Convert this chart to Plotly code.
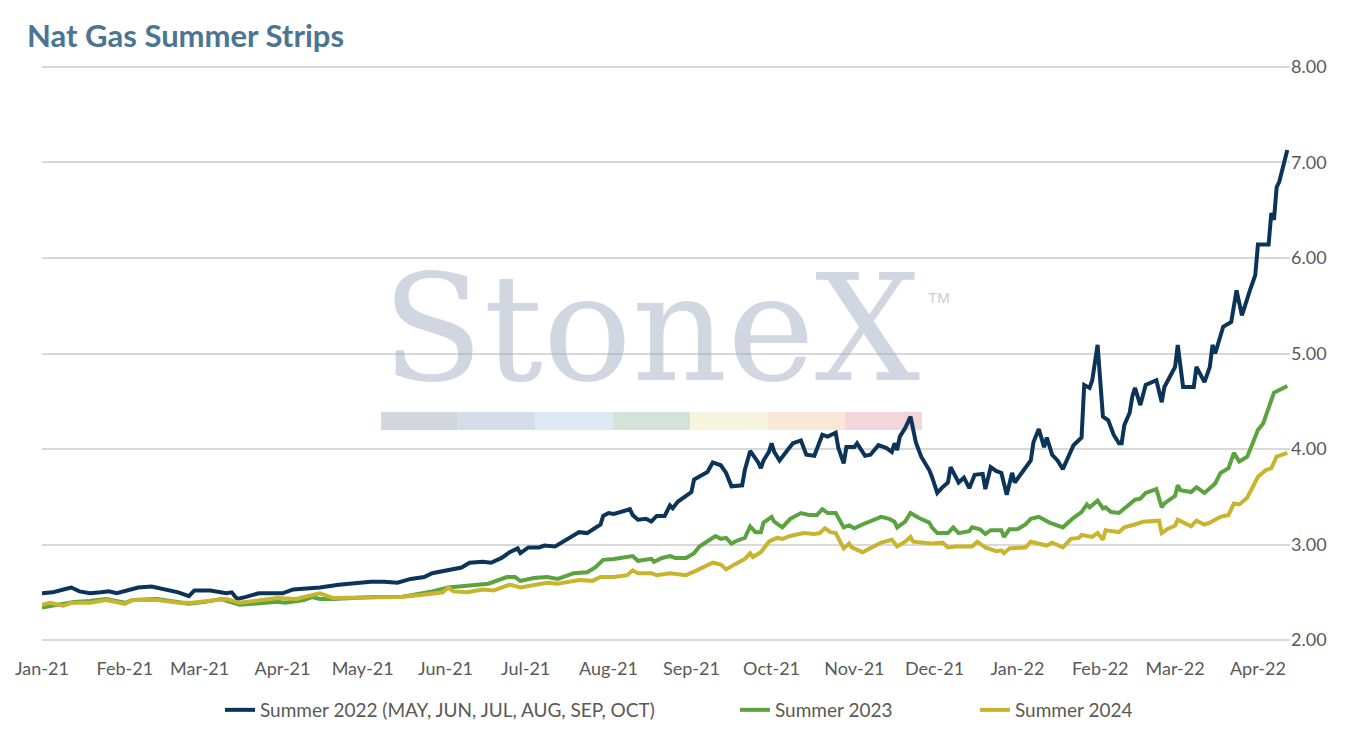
import plotly.graph_objects as go

# ---------------- data ----------------
s22_dates = ["2021-01-04","2021-01-08","2021-01-12","2021-01-15","2021-01-18","2021-01-22","2021-01-26","2021-01-29",
 "2021-02-01","2021-02-05","2021-02-09","2021-02-14","2021-02-17","2021-02-20","2021-02-24","2021-02-28",
 "2021-03-02","2021-03-08","2021-03-11","2021-03-14","2021-03-16","2021-03-18","2021-03-21","2021-03-26","2021-03-31",
 "2021-04-04","2021-04-08","2021-04-12","2021-04-18","2021-04-25","2021-05-01","2021-05-07","2021-05-12","2021-05-17",
 "2021-05-22","2021-05-27","2021-05-30","2021-06-03","2021-06-06","2021-06-10","2021-06-13","2021-06-18","2021-06-21",
 "2021-06-25","2021-06-28","2021-07-01","2021-07-02","2021-07-05","2021-07-09","2021-07-11","2021-07-15","2021-07-19",
 "2021-07-23","2021-07-24","2021-07-27","2021-07-30","2021-08-01","2021-08-02","2021-08-04","2021-08-06","2021-08-09",
 "2021-08-12","2021-08-13","2021-08-15","2021-08-18","2021-08-20","2021-08-22","2021-08-25","2021-08-27","2021-08-28",
 "2021-08-30","2021-09-01","2021-09-04","2021-09-05","2021-09-10","2021-09-12","2021-09-15","2021-09-17","2021-09-19",
 "2021-09-23","2021-09-24","2021-09-26","2021-09-29","2021-09-30","2021-10-01","2021-10-03","2021-10-04","2021-10-05",
 "2021-10-07","2021-10-10","2021-10-12","2021-10-15","2021-10-17","2021-10-20","2021-10-21","2021-10-23","2021-10-25",
 "2021-10-28","2021-10-29","2021-10-31","2021-11-01","2021-11-04","2021-11-05","2021-11-08","2021-11-10","2021-11-13",
 "2021-11-16","2021-11-18","2021-11-19","2021-11-20","2021-11-21","2021-11-23","2021-11-25","2021-11-26","2021-11-27",
 "2021-11-29","2021-12-02","2021-12-03","2021-12-05","2021-12-07","2021-12-09","2021-12-10","2021-12-13","2021-12-15",
 "2021-12-17","2021-12-19","2021-12-22","2021-12-23","2021-12-25","2021-12-27","2021-12-29","2021-12-31","2022-01-02",
 "2022-01-03","2022-01-06","2022-01-09","2022-01-10","2022-01-12","2022-01-14","2022-01-15","2022-01-17","2022-01-19",
 "2022-01-21","2022-01-23","2022-01-25","2022-01-28","2022-01-29","2022-01-31","2022-02-01","2022-02-03","2022-02-05",
 "2022-02-07","2022-02-09","2022-02-11","2022-02-12","2022-02-13","2022-02-15","2022-02-16","2022-02-17","2022-02-19",
 "2022-02-21","2022-02-25","2022-02-27","2022-02-28","2022-03-04","2022-03-05","2022-03-07","2022-03-11","2022-03-12",
 "2022-03-15","2022-03-17","2022-03-18","2022-03-19","2022-03-22","2022-03-25","2022-03-27","2022-03-29","2022-04-01",
 "2022-04-03","2022-04-04","2022-04-08","2022-04-09","2022-04-10","2022-04-11","2022-04-12","2022-04-15"]
s22_vals = [2.49,2.50,2.53,2.55,2.51,2.49,2.50,2.51,
 2.49,2.52,2.55,2.56,2.54,2.53,2.50,2.46,
 2.52,2.52,2.51,2.49,2.50,2.43,2.45,2.49,2.49,
 2.49,2.53,2.54,2.55,2.58,2.60,2.61,2.61,2.60,
 2.64,2.66,2.70,2.72,2.74,2.76,2.81,2.82,2.81,
 2.86,2.92,2.96,2.91,2.97,2.97,2.99,2.98,3.05,
 3.12,3.13,3.12,3.18,3.21,3.30,3.33,3.32,3.34,
 3.37,3.31,3.26,3.27,3.24,3.30,3.30,3.41,3.38,
 3.45,3.49,3.55,3.68,3.76,3.86,3.83,3.75,3.61,
 3.62,3.78,3.98,3.86,3.80,3.88,3.97,4.06,3.97,
 3.88,3.99,4.06,4.09,3.94,3.93,4.01,4.15,4.13,
 4.17,4.01,3.85,4.02,4.02,4.06,3.93,3.94,4.04,
 4.01,3.97,4.06,3.99,4.13,4.22,4.34,4.20,4.07,
 3.92,3.78,3.71,3.54,3.60,3.65,3.81,3.65,3.70,
 3.59,3.73,3.74,3.58,3.81,3.77,3.75,3.52,3.75,
 3.65,3.76,3.88,4.07,4.21,4.02,4.12,3.94,3.88,
 3.79,3.92,4.04,4.12,4.67,4.64,4.72,5.09,4.34,
 4.30,4.15,4.06,4.06,4.25,4.38,4.55,4.64,4.46,
 4.67,4.72,4.49,4.65,4.86,5.09,4.65,4.65,4.86,
 4.70,4.86,5.09,5.00,5.28,5.33,5.66,5.40,5.66,
 5.82,6.14,6.14,6.47,6.40,6.74,6.80,7.13]

s23_dates = ["2021-01-04","2021-01-08","2021-01-13","2021-01-16","2021-01-22","2021-01-28","2021-02-04","2021-02-07",
 "2021-02-16","2021-02-24","2021-02-28","2021-03-06","2021-03-12","2021-03-19","2021-03-26","2021-04-02","2021-04-05",
 "2021-04-12","2021-04-15","2021-04-18","2021-04-23","2021-05-08","2021-05-18","2021-05-25","2021-05-30","2021-06-05",
 "2021-06-12","2021-06-20","2021-06-27","2021-06-30","2021-07-02","2021-07-07","2021-07-12","2021-07-16","2021-07-22",
 "2021-07-27","2021-07-30","2021-08-02","2021-08-06","2021-08-13","2021-08-15","2021-08-20","2021-08-21","2021-08-24",
 "2021-08-27","2021-08-29","2021-09-02","2021-09-05","2021-09-07","2021-09-10","2021-09-13","2021-09-15","2021-09-17",
 "2021-09-19","2021-09-21","2021-09-24","2021-09-26","2021-09-28","2021-09-30","2021-10-01","2021-10-04","2021-10-05",
 "2021-10-08","2021-10-11","2021-10-15","2021-10-18","2021-10-21","2021-10-23","2021-10-25","2021-10-28","2021-10-30",
 "2021-10-31","2021-11-02","2021-11-04","2021-11-07","2021-11-10","2021-11-14","2021-11-17","2021-11-19","2021-11-20",
 "2021-11-23","2021-11-25","2021-11-27","2021-11-28","2021-12-02","2021-12-03","2021-12-05","2021-12-09","2021-12-11",
 "2021-12-13","2021-12-17","2021-12-18","2021-12-21","2021-12-23","2021-12-25","2021-12-29","2021-12-30","2022-01-01",
 "2022-01-04","2022-01-07","2022-01-09","2022-01-12","2022-01-16","2022-01-21","2022-01-25","2022-01-28","2022-01-30",
 "2022-01-31","2022-02-03","2022-02-05","2022-02-06","2022-02-08","2022-02-11","2022-02-13","2022-02-17","2022-02-19",
 "2022-02-21","2022-02-25","2022-02-27","2022-02-28","2022-03-04","2022-03-05","2022-03-06","2022-03-10","2022-03-12",
 "2022-03-15","2022-03-17","2022-03-19","2022-03-21","2022-03-24","2022-03-26","2022-03-28","2022-03-31","2022-04-01",
 "2022-04-04","2022-04-06","2022-04-08","2022-04-10","2022-04-15"]
s23_vals = [2.34,2.36,2.39,2.40,2.41,2.43,2.39,2.42,
 2.43,2.40,2.38,2.40,2.43,2.37,2.39,2.40,2.39,
 2.42,2.45,2.43,2.43,2.45,2.45,2.48,2.51,2.55,
 2.57,2.59,2.66,2.66,2.62,2.65,2.66,2.64,2.70,
 2.71,2.76,2.84,2.85,2.88,2.83,2.85,2.82,2.86,
 2.88,2.86,2.86,2.91,2.98,3.03,3.09,3.06,3.07,
 3.01,3.04,3.07,3.19,3.13,3.13,3.23,3.29,3.24,
 3.18,3.27,3.33,3.31,3.31,3.37,3.33,3.33,3.24,
 3.18,3.20,3.17,3.21,3.24,3.29,3.27,3.24,3.18,
 3.24,3.33,3.29,3.28,3.23,3.18,3.12,3.12,3.18,
 3.12,3.14,3.18,3.16,3.11,3.15,3.15,3.08,3.16,
 3.16,3.21,3.27,3.29,3.23,3.18,3.28,3.34,3.42,
 3.39,3.46,3.38,3.39,3.34,3.33,3.38,3.47,3.48,
 3.54,3.58,3.39,3.43,3.51,3.62,3.57,3.55,3.60,
 3.54,3.59,3.64,3.75,3.80,3.96,3.87,3.92,3.99,
 4.20,4.27,4.43,4.59,4.66]

s24_dates = ["2021-01-04","2021-01-07","2021-01-12","2021-01-15","2021-01-22","2021-01-28","2021-02-04","2021-02-07",
 "2021-02-16","2021-02-24","2021-03-01","2021-03-08","2021-03-14","2021-03-19","2021-03-26","2021-04-02","2021-04-09",
 "2021-04-15","2021-04-18","2021-04-23","2021-04-28","2021-05-08","2021-05-18","2021-05-25","2021-05-30","2021-06-03",
 "2021-06-05","2021-06-07","2021-06-12","2021-06-18","2021-06-22","2021-06-28","2021-07-02","2021-07-09","2021-07-12",
 "2021-07-16","2021-07-24","2021-07-29","2021-08-01","2021-08-06","2021-08-11","2021-08-13","2021-08-15","2021-08-20",
 "2021-08-22","2021-08-27","2021-09-02","2021-09-06","2021-09-08","2021-09-12","2021-09-15","2021-09-17","2021-09-20",
 "2021-09-24","2021-09-26","2021-09-27","2021-09-30","2021-10-03","2021-10-06","2021-10-08","2021-10-11","2021-10-16",
 "2021-10-20","2021-10-22","2021-10-24","2021-10-26","2021-10-28","2021-10-30","2021-10-31","2021-11-02","2021-11-03",
 "2021-11-07","2021-11-10","2021-11-14","2021-11-18","2021-11-20","2021-11-23","2021-11-25","2021-11-26","2021-11-29",
 "2021-12-03","2021-12-07","2021-12-09","2021-12-12","2021-12-18","2021-12-20","2021-12-23","2021-12-27","2021-12-29",
 "2021-12-30","2022-01-01","2022-01-07","2022-01-09","2022-01-15","2022-01-17","2022-01-21","2022-01-24","2022-01-27",
 "2022-01-28","2022-02-01","2022-02-03","2022-02-05","2022-02-06","2022-02-11","2022-02-13","2022-02-17","2022-02-20",
 "2022-02-26","2022-02-27","2022-03-01","2022-03-04","2022-03-05","2022-03-07","2022-03-10","2022-03-12","2022-03-15",
 "2022-03-17","2022-03-19","2022-03-21","2022-03-24","2022-03-26","2022-03-28","2022-03-31","2022-04-02","2022-04-04",
 "2022-04-07","2022-04-09","2022-04-11","2022-04-15"]
s24_vals = [2.37,2.39,2.36,2.39,2.39,2.42,2.38,2.42,
 2.42,2.39,2.39,2.41,2.43,2.39,2.41,2.44,2.43,
 2.47,2.49,2.44,2.44,2.45,2.45,2.47,2.49,2.50,
 2.55,2.51,2.50,2.53,2.52,2.58,2.55,2.58,2.60,
 2.59,2.63,2.62,2.66,2.66,2.68,2.73,2.70,2.70,
 2.68,2.70,2.68,2.73,2.76,2.81,2.79,2.74,2.79,
 2.85,2.91,2.87,2.92,3.03,3.07,3.06,3.09,3.12,
 3.11,3.12,3.17,3.13,3.12,3.02,2.96,3.01,2.97,
 2.92,2.96,3.02,3.05,2.98,3.03,3.08,3.03,3.02,
 3.01,3.02,2.97,2.98,2.98,3.03,2.97,2.93,2.94,
 2.91,2.96,2.97,3.03,2.99,3.02,2.97,3.06,3.07,
 3.10,3.08,3.12,3.05,3.15,3.13,3.18,3.21,3.24,
 3.25,3.12,3.16,3.20,3.26,3.23,3.19,3.25,3.21,
 3.23,3.26,3.29,3.31,3.43,3.42,3.49,3.60,3.71,
 3.78,3.80,3.92,3.96]

series_names = ["Summer 2022 (MAY, JUN, JUL, AUG, SEP, OCT)", "Summer 2023", "Summer 2024"]
series_colors = ["#0c3458", "#5ba33f", "#c9b42e"]
y_ticks = [2, 3, 4, 5, 6, 7, 8]

# ---------------- figure ----------------
W, H = 1350, 729
ML, MR, MT, MB = 42, 60, 65, 87
PW, PH = W - ML - MR, H - MT - MB

def px_x(p):
    return (p - ML) / PW

def px_y(p):
    return (H - MB - p) / PH

fig = go.Figure()
legends = ["legend", "legend2", "legend3"]
for name, xs, ys, col, lg in zip(series_names, [s22_dates, s23_dates, s24_dates],
                                 [s22_vals, s23_vals, s24_vals], series_colors, legends):
    fig.add_trace(go.Scatter(x=xs, y=ys, mode="lines", name=name, legend=lg,
                             line=dict(color=col, width=4)))

# watermark colour bar
bar_cols = ["#d2d8de", "#d5dee8", "#deeaf3", "#d4e2da", "#f7f5dd", "#f9e8d6", "#f3d6da"]
x0, seg = 381, 77.3
for i, c in enumerate(bar_cols):
    fig.add_shape(type="rect", xref="paper", yref="paper", layer="below",
                  x0=px_x(x0 + i * seg), x1=px_x(x0 + (i + 1) * seg),
                  y0=px_y(430), y1=px_y(412),
                  fillcolor=c, line_width=0)

fig.add_annotation(text="StoneX", xref="paper", yref="paper",
                   x=px_x(651), y=px_y(329), xanchor="center", yanchor="middle",
                   showarrow=False,
                   font=dict(family="DejaVu Serif", size=148, color="rgba(150,166,186,0.45)"))
fig.add_annotation(text="TM", xref="paper", yref="paper",
                   x=px_x(926), y=px_y(297), xanchor="left", yanchor="middle",
                   showarrow=False,
                   font=dict(family="Liberation Sans", size=15, color="#c9ced4"))

legend_common = dict(orientation="h", yref="container", yanchor="middle", y=(H - 710) / H,
                     xanchor="left",
                     font=dict(family="Lato", size=19, color="#595959"),
                     bgcolor="rgba(0,0,0,0)", borderwidth=0, itemwidth=30)

fig.update_layout(
    width=W, height=H,
    paper_bgcolor="white", plot_bgcolor="white",
    margin=dict(l=ML, r=MR, t=MT, b=MB, autoexpand=False),
    title=dict(text="<b>Nat Gas Summer Strips</b>", x=27 / W, xref="container", xanchor="left",
               y=1 - 36 / H, yref="container", yanchor="middle",
               font=dict(family="Lato", size=31, color="#4b7593")),
    xaxis=dict(type="date", range=["2021-01-04", "2022-04-16"], tick0="2021-01-04", dtick="M1",
               tickformat="%b-%y", showgrid=False, zeroline=False, showline=False, ticks="",
               ticklabelstandoff=14,
               tickfont=dict(family="Lato", size=18, color="#595959")),
    yaxis=dict(range=[1.98, 8.02], side="right", tickvals=y_ticks, tickformat=".2f",
               showgrid=True, gridcolor="#d9d9d9", gridwidth=2, zeroline=False, showline=False,
               ticks="", tickfont=dict(family="Lato", size=18, color="#595959")),
    legend=dict(legend_common, x=px_x(220)),
    legend2=dict(legend_common, x=px_x(735)),
    legend3=dict(legend_common, x=px_x(975)),
    showlegend=True,
)

fig.write_html("out.html", config={"displayModeBar": False},
               post_script="document.body.style.margin='0';document.body.style.overflow='hidden';")
